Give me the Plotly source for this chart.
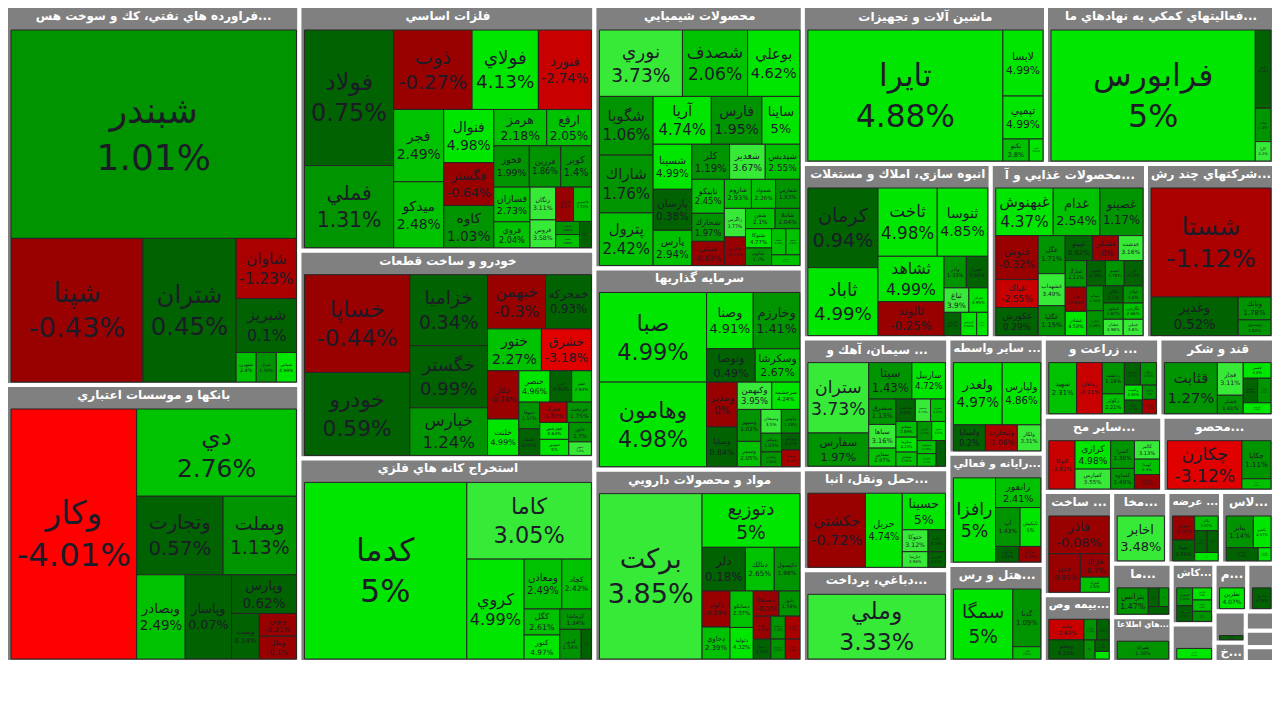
import plotly.graph_objects as go

# ---------------- data ----------------
sector_names = [
    "فراورده هاي نفتي، كك و سوخت هسته اي", "بانكها و موسسات اعتباري", "فلزات اساسي",
    "خودرو و ساخت قطعات", "استخراج كانه هاي فلزي", "محصولات شيميايي", "سرمايه گذاريها",
    "مواد و محصولات دارويي", "ماشين آلات و تجهيزات", "محصولات غذايي و آشاميدني به جز قند و شكر",
    "شركتهاي چند رشته اي صنعتي", "سيمان، آهك و گچ", "فعاليتهاي كمكي به نهادهاي مالي واسط",
    "انبوه سازي، املاك و مستغلات", "حمل ونقل، انبارداري و ارتباطات", "دباغي، پرداخت چرم و ساخت انواع پاپوش",
    "ساير واسطه گريهاي مالي", "رايانه و فعاليتهاي وابسته به آن", "هتل و رستوران",
    "ساير محصولات كاني غيرفلزي", "زراعت و خدمات وابسته", "محصولات كاغذي",
    "بيمه وصندوق بازنشستگي", "عرضه برق، گاز، بخاروآب گرم", "قند و شكر", "ساخت محصولات فلزي",
    "لاستيك و پلاستيك", "مخابرات", "ماشين آلات و دستگاههاي برقي", "فعاليت هاي اطلاعات و ارتباطات",
    "كاشي و سراميك", "ساخت دستگاهها و وسايل ارتباطي", "منسوجات", "خدمات فني و مهندسي",
    "استخراج نفت گاز", "خرده فروشي", "اوراق مشاركت", "صندوق سرمايه گذاري", "ساير",
]
# header texts as shown (truncated; the ellipsis ends the right-to-left text)
sector_titles = [
    "فراورده هاي نفتي، كك و سوخت هس...", "بانكها و موسسات اعتباري", "فلزات اساسي",
    "خودرو و ساخت قطعات", "استخراج كانه هاي فلزي", "محصولات شيميايي", "سرمايه گذاريها",
    "مواد و محصولات دارويي", "ماشين آلات و تجهيزات", "محصولات غذايي و آ...",
    "شركتهاي چند رش...", "سيمان، آهك و ...", "فعاليتهاي كمكي به نهادهاي ما...",
    "انبوه سازي، املاك و مستغلات", "حمل ونقل، انبا...", "دباغي، پرداخت...",
    "ساير واسطه ...", "رايانه و فعالي...", "هتل و رس...",
    "ساير مح...", "زراعت و ...", "محصو...",
    "بيمه وص...", "عرضه ...", "قند و شكر", "ساخت ...",
    "لاس...", "مخا...", "ما...", "هاي اطلاعا...",
    "كاش...", "", "م...", "",
    "", "خ...", "", "", "",
]

stock_names = [
    ["شبندر", "شپنا", "شتران", "شاوان", "شبريز", "شبهرن", "شراز", "شپاس"],
    ["وكار", "دي", "وتجارت", "وبملت", "وبصادر", "وپاسار", "وپارس", "وپست", "ونوين", "وملل"],
    ["فولاد", "فملي", "ذوب", "فولاي", "فنورد", "فجر", "ميدكو", "فنوال", "فگستر", "كاوه", "هرمز", "ارفع",
     "فخوز", "كوير", "فزرين", "فسازان", "فروي", "زنگان", "فروس", "فرآور", "فاسمين", "فجهان", "فسپا", "فلوله"],
    ["خساپا", "خودرو", "خزاميا", "خگستر", "خپارس", "خمحركه", "ختور", "خشرق", "خبهمن", "خكار", "خلنت",
     "خنصر", "خزر", "خفنر", "خنوفا", "خكمك", "خفرآذ", "خريخت", "خاور", "خموتور", "خچرخش", "خمهر"],
    ["كدما", "كاما", "كروي", "ومعادن", "كچاد", "كگل", "كنور", "كپرور", "كرماشا", "كمينا"],
    ["نوري", "شصدف", "بوعلي", "شگويا", "شاراك", "آريا", "پترول", "فارس", "ساينا", "شسينا", "پارسان",
     "پارس", "كلر", "شغدير", "شپديس", "تاپيكو", "شپلي", "شمواد", "شفارس", "شخارك", "شاروم", "زاگرس",
     "شكربن", "شفن", "شاملا", "شتوكا", "شجم", "شيران", "شالوم", "شسپا"],
    ["صبا", "وهامون", "وصنا", "وخارزم", "وتوصا", "وسكرشا", "ومدير", "وكبهمن", "وسپهر", "وساپا",
     "سرچشمه", "وسمر", "وسبحان", "وآتوس", "وكغدير", "وبوعلي", "ونيكي", "وسنا"],
    ["بركت", "دتوزيع", "دلر", "دبالك", "دكپسول", "دتوليد", "دسانكو", "دكوثر", "دحاوي", "دسبحا",
     "دابور", "دفارا", "ديسم", "دشيمي", "دعبيد", "دزهراوي", "دجابر"],
    ["تايرا", "لابسا", "تپمپي", "تكنو", "تجلي"],
    ["غبهنوش", "غدام", "غصينو", "غنوش", "غپاك", "غكورش", "غگل", "غشهداب", "غگلپا", "غشكر", "غدشت",
     "غمارگ", "غاذر", "غشاذر", "غشهد", "غمينو", "غپينو", "غزر", "غسالم", "غچين", "غبشهر", "غالبر",
     "غشان", "غگرجي", "غپآذر", "غنيلي"],
    ["شستا", "وغدير", "وبانك", "وصندوق"],
    ["ستران", "سفارس", "سيتا", "ساربيل", "سشرق", "سباها", "سقاين", "سخزر", "سهرمز", "سصوفي", "سكرما",
     "سدشت", "سغرب", "سفانو", "سبجنو", "سخاش", "سپاها", "سنير"],
    ["فرابورس", "امين", "تملت", "كارا"],
    ["كرمان", "ثاباد", "ثاخت", "ثنوسا", "ثشاهد", "ثالوند", "وآذر", "ثباغ", "ثتران", "ثعمرا", "ثفارس",
     "ثپرديس", "ثمسكن"],
    ["حكشتي", "حريل", "حسينا", "حتوكا", "حپارسا", "حآسا", "حفارس"],
    ["وملي"],
    ["ولغدر", "ولپارس", "ولساپا", "ولتجارت", "ولكار"],
    ["رافزا", "رانفور", "آپ", "تاپكيش", "مرقام", "مداران"],
    ["سمگا", "گدنا", "گتور"],
    ["كتوكا", "كرازي", "كفپارس", "كسرا", "كالبر", "كسرام", "كساوه", "كهمدا"],
    ["سهيد", "زماهان", "زدشت", "زكوثر", "زشريف", "زملارد", "زكشت", "زپارس", "زفجر", "زبينا"],
    ["چكارن", "چكاپا", "چفيبر"],
    ["ملت", "ومعلم", "البرز", "وتعاون", "آسيا", "دانا", "كوثر"],
    ["بجهرم", "بمپنا", "بكام", "بزاگرس", "بفجر", "بنيرو"],
    ["قثابت", "قچار", "قشكر", "قشير", "قصفها", "قپيرا", "قلرست"],
    ["فاذر", "جدن", "فاراك", "فمراد"],
    ["پتاير", "پكشو", "پكرمان", "پلاست"],
    ["اخابر"],
    ["بترانس", "بشهاب", "بالبر", "بكاب"],
    ["همراه"],
    ["كسعدي", "كمرجان", "كپارس", "كهرام", "كتاژ"],
    ["لپارس"],
    ["نطرين"],
    ["ماديرا"],
    ["حفاري"],
    ["خبنا"],
    ["اخزا"],
    ["اطلس"],
    ["تيپيكو"],
]

stock_change = [
    [1.01, -0.43, 0.45, -1.23, 0.1, 2.4, 1.34, 4.99],
    [-4.01, 2.76, 0.57, 1.13, 2.49, 0.07, 0.62, 0.14, -0.21, -0.1],
    [0.75, 1.31, -0.27, 4.13, -2.74, 2.49, 2.48, 4.98, -0.64, 1.03, 2.18, 2.05,
     1.99, 1.4, 1.86, 2.73, 2.04, 3.11, 3.58, -0.1, 2.72, 1.86, 2.82, 0.43],
    [-0.44, 0.59, 0.34, 0.99, 1.24, 0.93, 2.27, -3.18, -0.3, -0.74, 4.99,
     4.96, 0.89, 2.94, 1.57, 0.95, -1.87, 1.75, 1.7, 5, 4.63, 3.6],
    [5, 3.05, 4.99, 2.49, 2.42, 2.61, 4.97, 1.54, 1.34, 0.9],
    [3.73, 2.06, 4.62, 1.06, 1.76, 4.74, 2.42, 1.95, 5, 4.99, 0.38,
     2.94, 1.19, 3.67, 2.55, 2.45, -0.62, 2.26, 1.83, 1.97, 2.93, 3.77,
     -0.14, 2.1, 1.04, 4.77, 2.36, 2.55, 1.7, 2.24],
    [4.99, 4.98, 4.91, 1.41, 0.49, 2.67, 0, 3.95, 1.02, 0.84,
     4.24, 2.05, 3.5, 1.18, 1.01, 0.37, 1.03, -1.1],
    [3.85, 5, 0.18, 2.65, 1.96, 4.32, 2.37, -0.59, 2.39, -0.1,
     1.58, -0.32, 1.7, -1.08, 0.74, 1.67, -1.08],
    [4.88, 4.99, 4.99, 2.8, 4.64],
    [4.37, 2.54, 1.17, -0.32, -2.55, 0.29, 1.71, 3.49, 1.15, -0.0, 3.16,
     1.11, -0.93, 4.58, 0.38, 1.78, 0.92, 0.19, 1.26, 1.08, 1.87, 0.1,
     3.98, 2.66, 1.6, 3.8],
    [-1.12, 0.52, 1.78, 1.84],
    [3.73, 1.97, 1.43, 4.72, 1.13, 3.16, 2.97, 1.89, 2.4, 2.94, 4.23,
     0.6, 2.25, 2.89, 3.73, 2.99, 0.71, 4.5],
    [5, 0.14, 1.4, 3.2],
    [0.94, 4.99, 4.98, 4.85, 4.99, -0.25, 1.33, 3.9, 4.99, 0.64, 0.57, 4.84, 4.6],
    [-0.72, 4.74, 5, 3.12, 3.96, 0.26, 0.67],
    [3.33],
    [4.97, 4.86, 0.2, -1.06, 3.31],
    [5, 2.41, 1.43, 5, -0.53, 0.81],
    [5, 1.09, 2.06],
    [-2.81, 4.98, 3.55, 1.38, 3.13, -0.93, 1.49, 2.4],
    [2.31, -2.11, 1.19, 2.21, 0.71, 1.82, 4.99, 1.0, -1.2, 0.3],
    [-3.12, 1.11, 2.64],
    [-2.42, 0.21, 0.66, 1.12, 1.55, 0.91, 4.2],
    [-0.31, 0.76, 2.02, 0.54, 0.21, 4.9],
    [1.27, 3.11, 1.41, 4.4, 0.48, 1.41, 4.06],
    [-0.08, -0.95, -0.7, 2.6],
    [1.14, 4.97, 0.9, 4.12],
    [3.48],
    [1.47, 0.76, 1.59, 0.5],
    [1.38],
    [1.16, 0.5, 4.6, 2.4, 1.5],
    [4.99],
    [4.07],
    [0.29],
    [0.85],
    [1.2],
    [0.5],
    [0.8],
    [1.1],
]

stock_value = [
    [62200, 19800, 14000, 3800, 3400, 620, 620, 620],
    [33800, 15000, 7300, 6200, 4400, 4200, 2700, 1360, 910, 910],
    [13200, 8000, 6800, 5750, 4600, 3950, 3600, 2900, 2350, 2300, 2100, 1770,
     1600, 1380, 1420, 1370, 1020, 920, 780, 670, 670, 340, 340, 340],
    [11500, 9750, 6150, 5400, 4130, 2770, 2520, 2340, 3510, 1690, 1270,
     1090, 760, 690, 620, 620, 620, 550, 490, 520, 550, 340],
    [32100, 10700, 6400, 2110, 1650, 1040, 960, 710, 720, 340],
    [6040, 4740, 3800, 3450, 3400, 3050, 3090, 2650, 1990, 1910, 1740,
     1490, 1450, 1370, 1330, 1210, 860, 770, 770, 1000, 860, 660,
     660, 660, 550, 550, 400, 330, 500, 410],
    [10900, 10280, 2980, 2980, 1840, 1690, 1560, 1070, 860, 1380,
     870, 680, 550, 500, 345, 345, 440, 345],
    [19400, 6000, 2160, 1440, 1280, 840, 970, 1150, 1020, 740,
     600, 460, 380, 380, 400, 330, 330],
    [30100, 3120, 2030, 680, 360],
    [3220, 2620, 2420, 2200, 1400, 1400, 1210, 1020, 950, 770, 720,
     670, 610, 610, 560, 560, 800, 560, 490, 490, 380, 400,
     380, 380, 400, 380],
    [15600, 4000, 890, 615],
    [5400, 2550, 1980, 1540, 870, 810, 620, 350, 300, 310, 400,
     550, 420, 420, 430, 380, 300, 330],
    [31600, 1450, 620, 360],
    [6520, 5560, 4720, 4030, 3500, 2610, 820, 710, 540, 790, 455, 430, 300],
    [5820, 3720, 2150, 770, 550, 520, 370],
    [12600],
    [4090, 3240, 1120, 1120, 820],
    [4830, 1830, 1300, 1100, 460, 500],
    [5950, 2300, 490],
    [2000, 1600, 1120, 1040, 730, 570, 770, 610],
    [2200, 2040, 1070, 680, 560, 560, 420, 310, 310, 380],
    [5700, 1760, 470],
    [1300, 1210, 460, 480, 380, 290, 190],
    [950, 830, 610, 430, 480, 350],
    [4200, 1310, 740, 675, 550, 510, 470],
    [3300, 1760, 980, 630],
    [1540, 1000, 750, 300],
    [3750],
    [1810, 450, 400, 340],
    [2520],
    [600, 520, 480, 450, 400],
    [1520],
    [1480],
    [1200],
    [920],
    [570],
    [440],
    [510],
    [390],
]

for a, b, c in zip(stock_names, stock_change, stock_value):
    assert len(a) == len(b) == len(c), a
assert len(sector_names) == len(sector_titles) == len(stock_names)


# ---------------- styling helpers ----------------
def change_color(c):
    if c >= 4:
        return "#00E600"
    if c >= 3:
        return "#38EA38"
    if c >= 2:
        return "#00C200"
    if c >= 1:
        return "#009400"
    if c > 0:
        return "#006200"
    if c > -1:
        return "#990000"
    if c > -2:
        return "#AA0000"
    if c > -3:
        return "#C80000"
    if c > -4:
        return "#E00000"
    return "#FF0000"


ids, labels, parents, values = [], [], [], []
colors, texts, fsizes, fcolors, lcolors, lwidths = [], [], [], [], [], []

for i, (sname, stitle) in enumerate(zip(sector_names, sector_titles)):
    ids.append(f"S{i}")
    labels.append(f"<b>{stitle}</b>" if stitle else " ")
    parents.append("")
    values.append(0)
    colors.append("#808080")
    texts.append(sname)
    fsizes.append(12)
    fcolors.append("#ffffff")
    lcolors.append("#ffffff")
    lwidths.append(4)

for i in range(len(sector_names)):
    for name, ch, val in zip(stock_names[i], stock_change[i], stock_value[i]):
        ids.append(f"S{i}/{name}")
        labels.append(name)
        parents.append(f"S{i}")
        values.append(val)
        colors.append(change_color(ch))
        texts.append(f"{ch:g}%")
        fsizes.append(min(36.0, 1.15 * val ** 0.32))
        fcolors.append("#1c1c28")
        lcolors.append("#262626")
        lwidths.append(1)

fig = go.Figure(
    go.Treemap(
        ids=ids,
        labels=labels,
        parents=parents,
        values=values,
        branchvalues="remainder",
        sort=True,
        text=texts,
        texttemplate="%{label}<br>%{text}",
        textposition="middle center",
        textfont=dict(family="DejaVu Sans", size=fsizes, color=fcolors),
        marker=dict(
            colors=colors,
            line=dict(color=lcolors, width=lwidths),
            pad=dict(t=24, l=5, r=3, b=3),
        ),
        tiling=dict(pad=0),
        pathbar=dict(visible=False),
        root=dict(color="#ffffff"),
        hoverinfo="skip",
    )
)
fig.update_layout(
    width=1280,
    height=738,
    margin=dict(l=1, r=3, t=0, b=55),
    paper_bgcolor="#ffffff",
)
# the (empty) root header strip is scrolled out of view so the sectors start near the top
fig.write_html(
    "out.html",
    post_script="var gd=document.getElementById('{plot_id}');"
                "gd.style.position='relative';gd.style.top='-18px';"
                "document.body.style.margin='0';document.body.style.overflow='hidden';",
)
